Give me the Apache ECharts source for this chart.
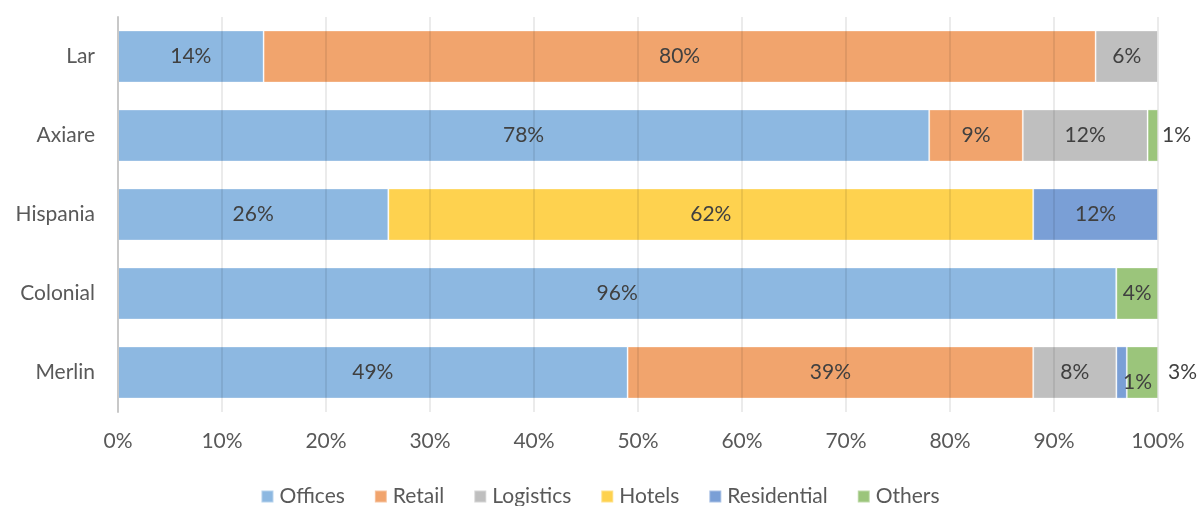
<!DOCTYPE html>
<html><head><meta charset="utf-8">
<script src="https://cdn.jsdelivr.net/npm/echarts@6/dist/echarts.min.js"></script>
<style>html,body{margin:0;padding:0;background:#fff}#c{width:1200px;height:506px}</style>
</head><body><div id="c"></div>
<script>
const categories = ['Lar', 'Axiare', 'Hispania', 'Colonial', 'Merlin'];
const seriesNames = ['Offices', 'Retail', 'Logistics', 'Hotels', 'Residential', 'Others'];
const offices     = [14, 78, 26, 96, 49];
const retail      = [80, 9, 0, 0, 39];
const logistics   = [6, 12, 0, 0, 8];
const hotels      = [0, 0, 62, 0, 0];
const residential = [0, 0, 12, 0, 1];
const others      = [0, 1, 0, 4, 3];
const xTicks = [0, 10, 20, 30, 40, 50, 60, 70, 80, 90, 100];

const values = [offices, retail, logistics, hotels, residential, others];
const colors = ['#8DB8E1', '#F1A46D', '#BFBFBF', '#FED24F', '#7A9FD6', '#9BC57B'];
const FONT = 'Lato, "Open Sans", sans-serif';
const FS = 21;

// label overrides for small segments (series index, category index)
const overrides = {
  '5-1': { position: 'right', distance: 4 },
  '5-4': { position: 'right', distance: 10 },
  '4-4': { position: 'inside', offset: [16, 10] }
};

const series = values.map((arr, si) => ({
  name: seriesNames[si],
  type: 'bar',
  stack: 'total',
  barCategoryGap: '34%',
  itemStyle: { color: colors[si], borderColor: 'rgba(255,255,255,0.35)', borderWidth: 1 },
  label: {
    show: true, position: 'inside', color: '#404040', fontSize: FS, fontFamily: FONT,
    formatter: p => p.value ? p.value + '%' : ''
  },
  data: arr.map((v, ci) => {
    const o = overrides[si + '-' + ci];
    return o ? { value: v, label: o } : v;
  })
}));

const chart = echarts.init(document.getElementById('c'));
chart.setOption({
  animation: false,
  color: colors,
  grid: { left: 118, right: 42, top: 17, bottom: 94, containLabel: false },
  xAxis: {
    type: 'value', min: 0, max: 100, interval: 10, z: 5,
    axisLine: { show: false }, axisTick: { show: false },
    splitLine: { show: true, lineStyle: { color: 'rgba(0,0,0,0.08)', width: 2 } },
    axisLabel: {
      color: '#595959', fontSize: FS, fontFamily: FONT, margin: 19,
      formatter: v => xTicks.includes(v) ? v + '%' : ''
    }
  },
  yAxis: {
    type: 'category', data: categories, inverse: true, z: 5,
    axisLine: { show: true, lineStyle: { color: '#C8C8C8', width: 2 } },
    axisTick: { show: false },
    axisLabel: { color: '#595959', fontSize: FS, fontFamily: FONT, margin: 23 }
  },
  legend: {
    bottom: -6, left: 'center', itemWidth: 12, itemHeight: 12, itemGap: 29,
    icon: 'rect',
    textStyle: { color: '#595959', fontSize: FS, fontFamily: FONT, padding: [0, 0, 0, 1] },
    data: seriesNames
  },
  series
});
</script></body></html>
